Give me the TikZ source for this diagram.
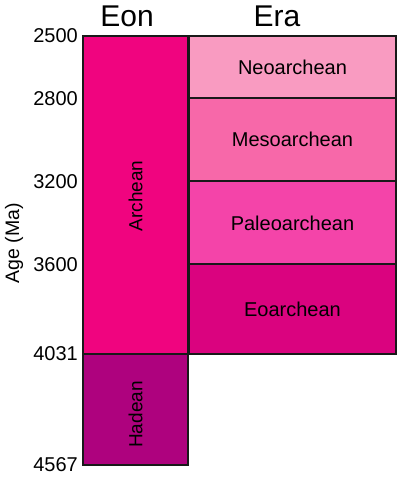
\documentclass[tikz,border=0pt]{standalone}
\usepackage{fontspec}
\setmainfont{Liberation Sans}
\usetikzlibrary{positioning}
\definecolor{archeanc}{HTML}{F0047F}
\definecolor{hadeanc}{HTML}{AE027E}
\definecolor{neoc}{HTML}{F99BC1}
\definecolor{mesoc}{HTML}{F768A9}
\definecolor{paleoc}{HTML}{F444A9}
\definecolor{eoc}{HTML}{DA037F}
\tikzset{block/.style={outer sep=0pt, inner sep=0pt, text centered, font=\fontsize{20}{20}\selectfont}}
\tikzset{frame/.style={draw=black!90, line width=2pt}}
\tikzset{eonlabel/.style={rotate=90, font=\fontsize{19}{19}\selectfont}}
\tikzset{agetick/.style={anchor=east, inner sep=0pt, font=\fontsize{20}{20}\selectfont}}
\tikzset{header/.style={font=\fontsize{30}{30}\selectfont}}

\begin{document}
\begin{tikzpicture}[x=1pt,y=-1pt]
\useasboundingbox (0,0) rectangle (398,482);

%eons
\node[block,minimum width=105pt,minimum height=318pt,fill=archeanc,anchor=north west] (archean) at (83,36) {};
\node[block,minimum width=105pt,minimum height=111pt,fill=hadeanc,below=0pt of archean] (hadean) {};
\node[eonlabel] (archeanlbl) at ([yshift=-1pt]archean.center) {Archean};
\node[eonlabel] (hadeanlbl) at ([yshift=-5pt]hadean.center) {Hadean};

%eras
\node[block,minimum width=207pt,minimum height=62.3pt,fill=neoc,anchor=north west] (neo) at (189,36) {Neoarchean};
\node[block,minimum width=207pt,minimum height=83pt,fill=mesoc,below=0pt of neo] (meso) {Mesoarchean};
\node[block,minimum width=207pt,minimum height=83.1pt,fill=paleoc,below=0pt of meso] (paleo) {Paleoarchean};
\node[block,minimum width=207pt,minimum height=89.4pt,fill=eoc,below=0pt of paleo] (eo) {Eoarchean};

%borders on top of the fills
\foreach \b in {archean,hadean,neo,meso,paleo,eo}
  \draw[frame] (\b.north west) rectangle (\b.south east);

%headers
\node[header] (eon) at (127,16) {Eon};
\node[header] (era) at (277,16) {Era};

%age axis
\node[agetick] (t2500) at (78,36) {2500};
\node[agetick] (t2800) at (78,98.3) {2800};
\node[agetick] (t3200) at (78,181.3) {3200};
\node[agetick] (t3600) at (78,264.4) {3600};
\node[agetick] (t4031) at (78,354) {4031};
\node[agetick] (t4567) at (78,465) {4567};
\node[rotate=90,font=\fontsize{19.5}{19.5}\selectfont] (age) at (14,243) {Age (Ma)};

\end{tikzpicture}
\end{document}
